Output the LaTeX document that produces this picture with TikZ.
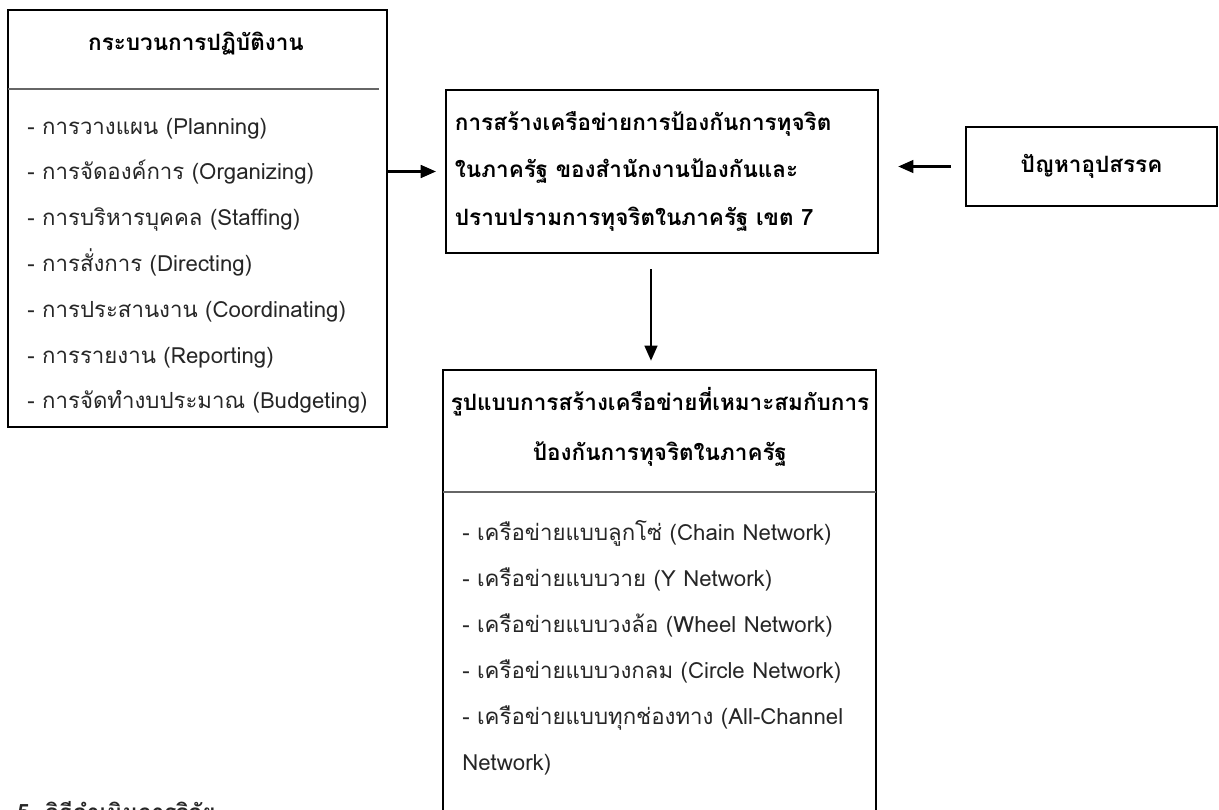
\documentclass[tikz,border=0pt]{standalone}
\usepackage{fontspec}
\setmainfont[Script=Thai]{Loma}
\usetikzlibrary{positioning,arrows.meta}

\begin{document}
\begin{tikzpicture}[x=0.025cm, y=-0.025cm,
    font=\fontsize{15.8}{33}\selectfont,
    box/.style={draw, line width=1.7pt, inner sep=0pt},
    head/.style={font=\fontsize{16}{35}\selectfont\bfseries, align=center, inner sep=0pt},
    item/.style={anchor=base west, inner sep=0pt, text=black!85},
    rule/.style={draw=black!60, line width=0.8pt},
    link/.style={line width=1.6pt, -{Triangle[length=3.8mm, width=3.2mm]}}]
    \useasboundingbox (0,0) rectangle (1219,810);
    \clip (0,0) rectangle (1219,810);

    % boxes
    \node[box, minimum width=9.475cm, minimum height=10.425cm] (proc) at (197.5,218.5) {};
    \node[box, minimum width=10.8cm, minimum height=4.075cm, text width=10.35cm,
          align=left, font=\fontsize{16}{34}\selectfont\bfseries] (net) at (662,171.5)
        {การสร้างเครือข่ายการป้องกันการทุจริต\\ในภาครัฐ ของสำนักงานป้องกันและ\\ปราบปรามการทุจริตในภาครัฐ เขต 7};
    \node[box, minimum width=6.275cm, minimum height=1.975cm, font=\fontsize{16}{33}\selectfont\bfseries] (obs) at (1091.5,166.5) {ปัญหาอุปสรรค};
    \node[box, minimum width=10.825cm, minimum height=11.5cm] (model) at (659.5,600) {};

    % left box
    \node[head] (t1) at (196,44) {กระบวนการปฏิบัติงาน};
    \draw[rule] (8,89) -- (379,89);
    \foreach \t [count=\i] in {- การวางแผน (Planning), - การจัดองค์การ (Organizing),
        - การบริหารบุคคล (Staffing), - การสั่งการ (Directing),
        - การประสานงาน (Coordinating), - การรายงาน (Reporting),
        - การจัดทำงบประมาณ (Budgeting)}
        \node[item] (p\i) at (27,{134+45.8*(\i-1)}) {\t};

    % bottom box
    \node[head] (t2) at (660,427) {รูปแบบการสร้างเครือข่ายที่เหมาะสมกับการ\\ป้องกันการทุจริตในภาครัฐ};
    \draw[rule] (443,492) -- (876,492);
    \foreach \t [count=\i] in {- เครือข่ายแบบลูกโซ่ (Chain Network), - เครือข่ายแบบวาย (Y Network),
        - เครือข่ายแบบวงล้อ (Wheel Network), - เครือข่ายแบบวงกลม (Circle Network),
        - เครือข่ายแบบทุกช่องทาง (All-Channel, Network)}
        \node[item] (m\i) at (462,{540+46*(\i-1)}) {\t};

    \node[item, font=\fontsize{16}{33}\selectfont\bfseries] (sec) at (17,820) {5. วิธีดำเนินการวิจัย};

    % arrows
    \draw[link, shorten >=0.22cm] (proc.east |- net.west) -- (net.west);
    \draw[link, shorten <=0.35cm, shorten >=0.475cm] (obs.west) -- (net.east |- obs.west);
    \draw[link, shorten <=0.375cm, shorten >=0.2cm] ([xshift=-0.275cm]net.south) -- ([xshift=-0.275cm]net.south |- model.north);
\end{tikzpicture}
\end{document}
